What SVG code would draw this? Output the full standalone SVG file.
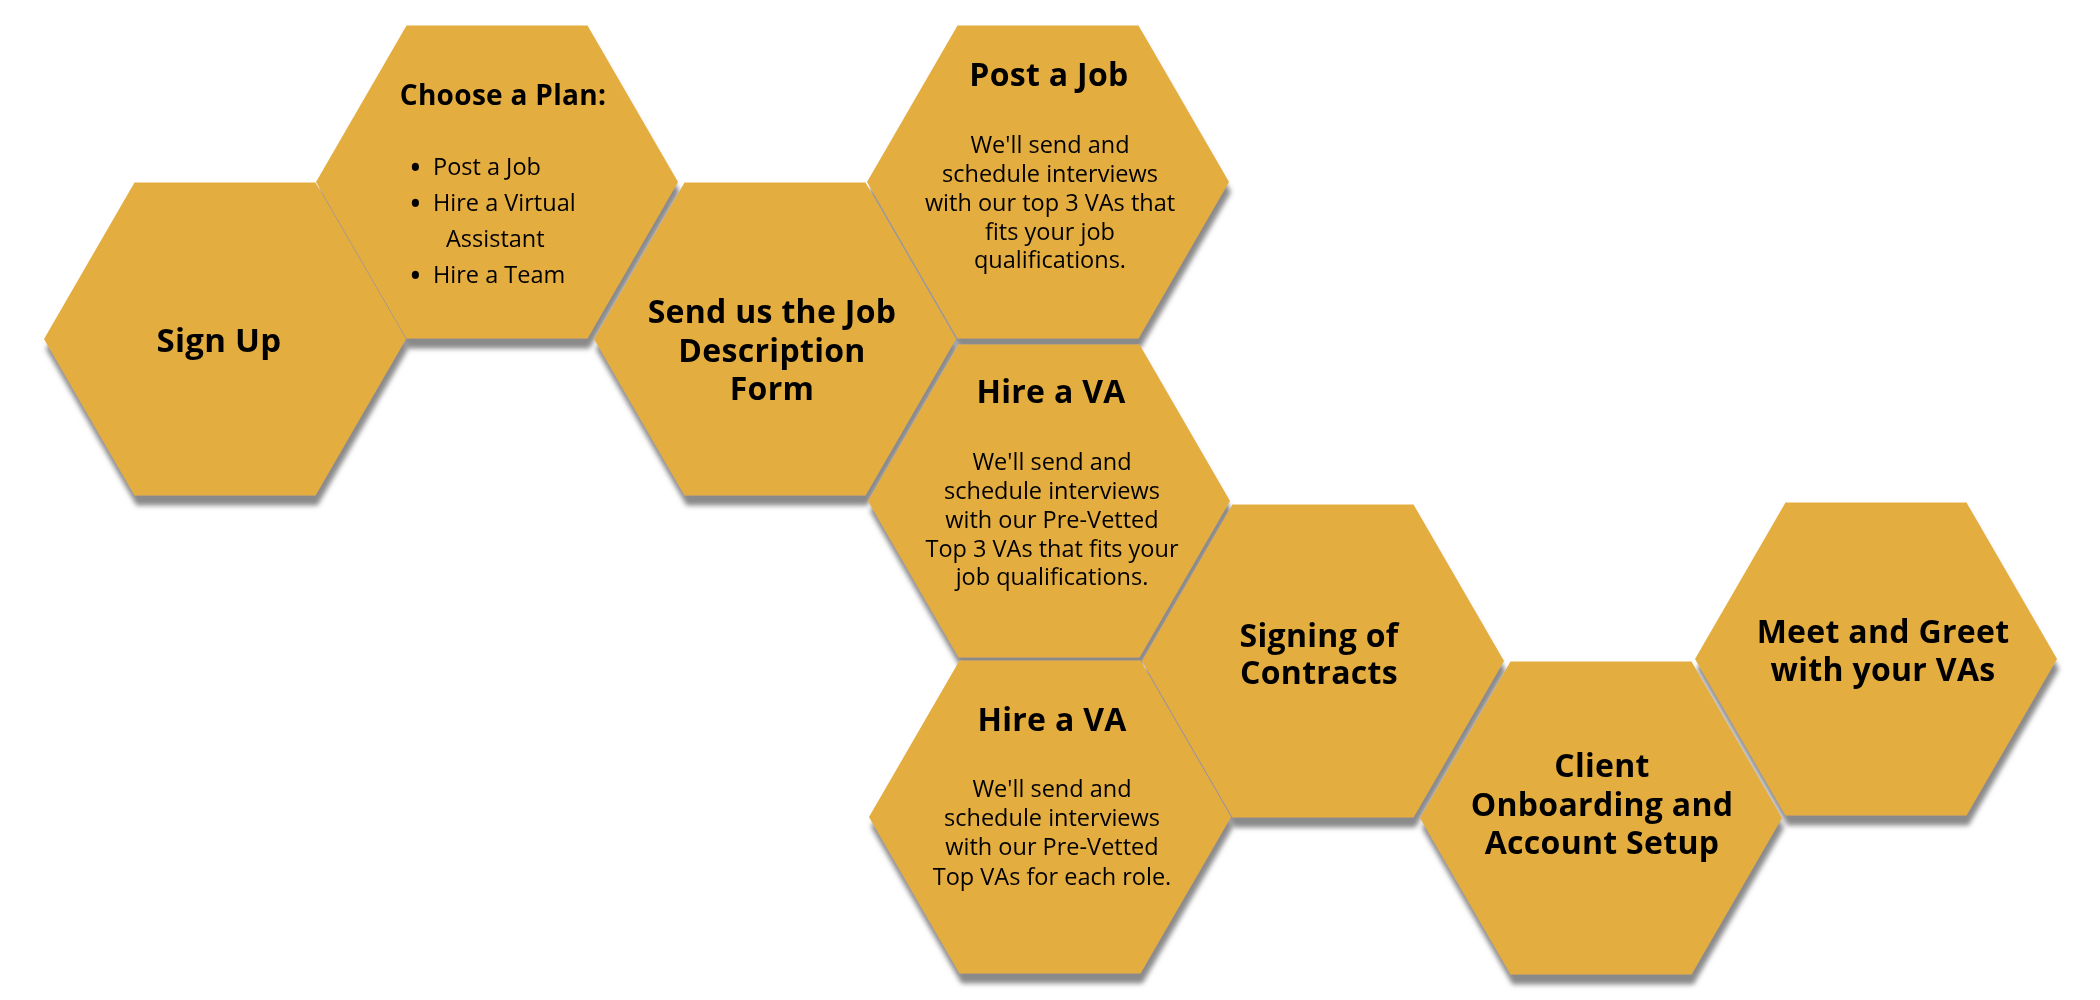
<svg xmlns="http://www.w3.org/2000/svg" xmlns:xlink="http://www.w3.org/1999/xlink" width="2100" height="1000" viewBox="0 0 2100 1000">
<style>
.hex{fill:#E4AD41}
.t{font-family:"Open Sans","Liberation Sans",sans-serif;font-weight:700;fill:#000;text-anchor:middle;letter-spacing:0.3px}
.b{font-family:"Open Sans","Liberation Sans",sans-serif;font-weight:400;fill:#000;font-size:23.5px}
.bl{font-family:"Open Sans","Liberation Sans",sans-serif;font-weight:400;fill:#000;font-size:34px}
.bc{text-anchor:middle}
</style>
<defs>
<polygon id="hx" points="-181,0 -90.5,-156.5 90.5,-156.5 181,0 90.5,156.5 -90.5,156.5"/>
<filter id="sh" x="-5%" y="-5%" width="110%" height="115%">
<feDropShadow dx="2" dy="10" stdDeviation="2.5" flood-color="#7d7d7d" flood-opacity="0.9"/>
</filter>
</defs>
<rect width="2100" height="1000" fill="#fff"/>
<g id="nodes" filter="url(#sh)">
<g id="sign-up">
<use xlink:href="#hx" href="#hx" x="225" y="339" class="hex"/>
<text class="t" x="219" y="352" font-size="33">Sign Up</text>
</g>
<g id="choose-plan">
<use xlink:href="#hx" href="#hx" x="497" y="182" class="hex"/>
<text class="t" x="503" y="105" font-size="28">Choose a Plan:</text>
<text class="bl" x="409" y="180">•</text><text class="b" x="433" y="175">Post a Job</text>
<text class="bl" x="409" y="216">•</text><text class="b" x="433" y="211">Hire a Virtual</text>
<text class="b" x="446" y="247">Assistant</text>
<text class="bl" x="409" y="288">•</text><text class="b" x="433" y="283">Hire a Team</text>
</g>
<g id="send-job-description">
<use xlink:href="#hx" href="#hx" x="775" y="339" class="hex"/>
<text class="t" font-size="32"><tspan x="772" y="323">Send us the Job</tspan><tspan x="772" y="362">Description</tspan><tspan x="772" y="400">Form</tspan></text>
</g>
<g id="post-job">
<use xlink:href="#hx" href="#hx" x="1048" y="182" class="hex"/>
<text class="t" x="1049" y="86" font-size="32">Post a Job</text>
<text class="b bc"><tspan x="1050" y="153">We'll send and</tspan><tspan x="1050" y="182">schedule interviews</tspan><tspan x="1050" y="211">with our top 3 VAs that</tspan><tspan x="1050" y="240">fits your job</tspan><tspan x="1050" y="268">qualifications.</tspan></text>
</g>
<g id="hire-va-1">
<use xlink:href="#hx" href="#hx" x="1049" y="501" class="hex"/>
<text class="t" x="1051" y="403" font-size="32">Hire a VA</text>
<text class="b bc"><tspan x="1052" y="470">We'll send and</tspan><tspan x="1052" y="499">schedule interviews</tspan><tspan x="1052" y="528">with our Pre-Vetted</tspan><tspan x="1052" y="557">Top 3 VAs that fits your</tspan><tspan x="1052" y="585">job qualifications.</tspan></text>
</g>
<g id="hire-va-2">
<use xlink:href="#hx" href="#hx" x="1050" y="817" class="hex"/>
<text class="t" x="1052" y="731" font-size="32">Hire a VA</text>
<text class="b bc"><tspan x="1052" y="797">We'll send and</tspan><tspan x="1052" y="826">schedule interviews</tspan><tspan x="1052" y="855">with our Pre-Vetted</tspan><tspan x="1052" y="885">Top VAs for each role.</tspan></text>
</g>
<g id="signing-contracts">
<use xlink:href="#hx" href="#hx" x="1323" y="661" class="hex"/>
<text class="t" font-size="32"><tspan x="1319" y="647">Signing of</tspan><tspan x="1319" y="684">Contracts</tspan></text>
</g>
<g id="client-onboarding">
<use xlink:href="#hx" href="#hx" x="1601" y="818" class="hex"/>
<text class="t" font-size="32"><tspan x="1602" y="777">Client</tspan><tspan x="1602" y="816">Onboarding and</tspan><tspan x="1602" y="854">Account Setup</tspan></text>
</g>
<g id="meet-greet">
<use xlink:href="#hx" href="#hx" x="1876" y="659" class="hex"/>
<text class="t" font-size="32"><tspan x="1883" y="643">Meet and Greet</tspan><tspan x="1883" y="681">with your VAs</tspan></text>
</g>
</g>
</svg>
